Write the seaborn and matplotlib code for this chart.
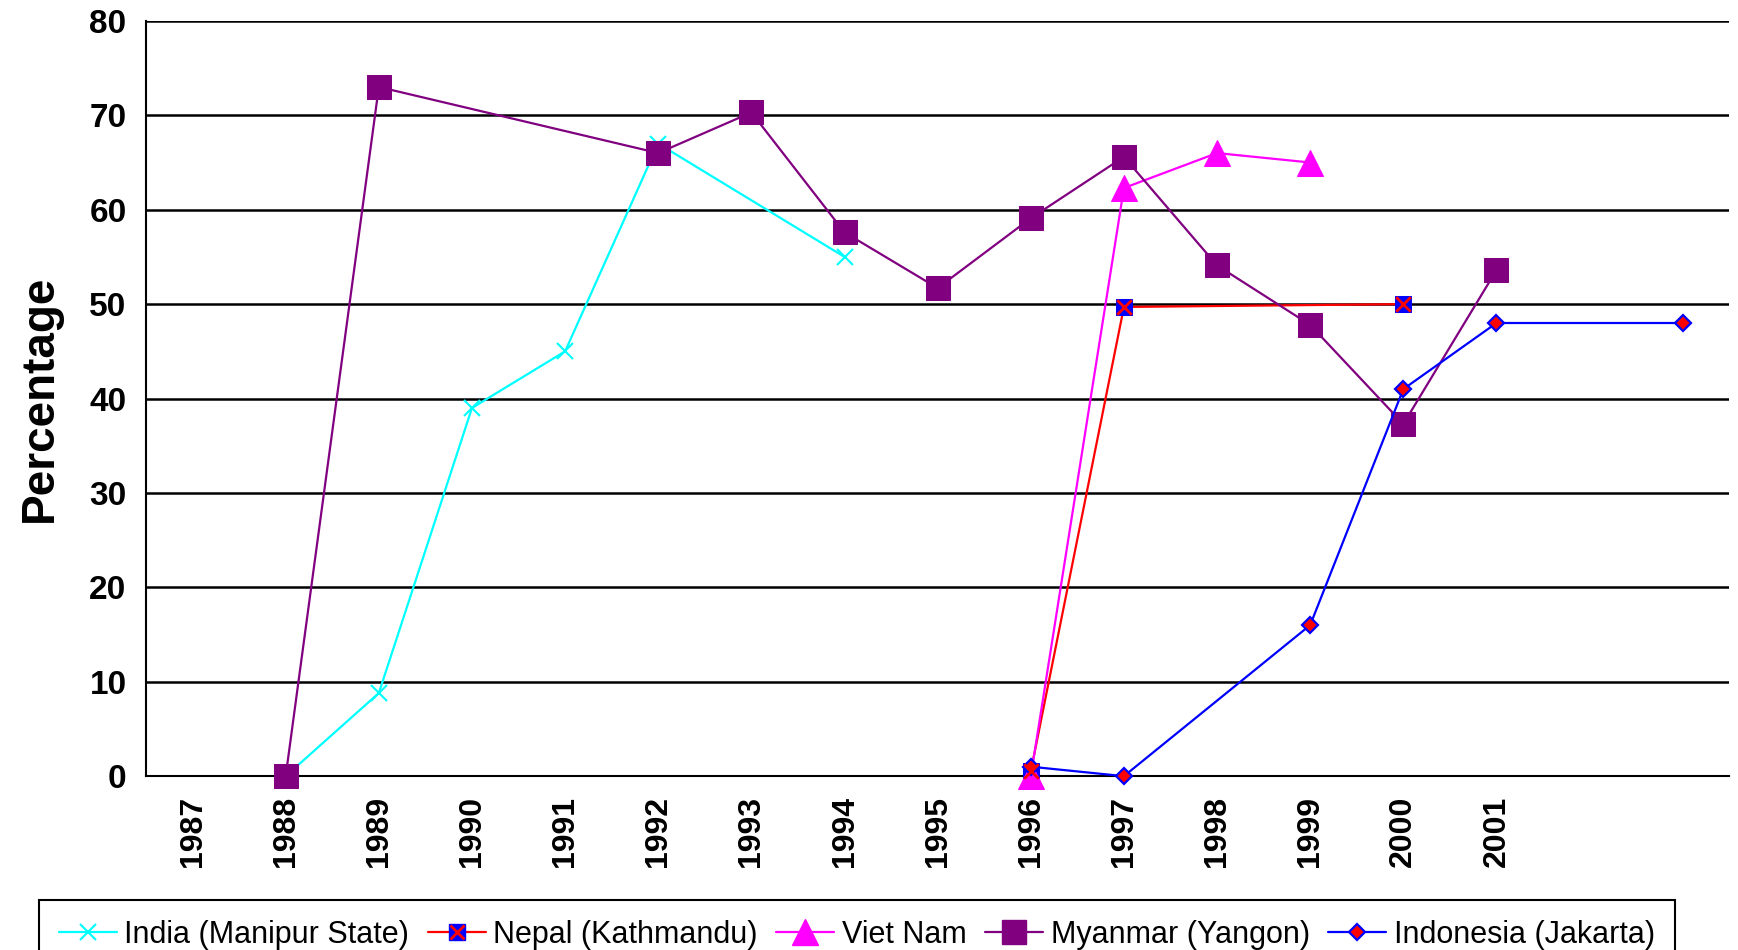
import pandas as pd
import matplotlib.pyplot as plt
import seaborn as sns
from matplotlib.lines import Line2D

# Datos (None = sin dato)
anios = ["1987", "1988", "1989", "1990", "1991", "1992", "1993", "1994", "1995",
         "1996", "1997", "1998", "1999", "2000", "2001", "", ""]
india = [None, 0, 8.8, 39, 45, 67, None, 55, None, None, None, None, None, None, None, None, None]
nepal = [None, None, None, None, None, None, None, None, None, 0.5, 49.7, None, None, 50, None, None, None]
vietnam = [None, None, None, None, None, None, None, None, None, 0, 62.3, 66, 65, None, None, None, None]
myanmar = [None, 0, 73, None, None, 66, 70.3, 57.6, 51.7, 59.1, 65.6, 54.1, 47.8, 37.3, 53.6, None, None]
indonesia = [None, None, None, None, None, None, None, None, None, 1, 0, None, 16, 41, 48, None, 48]

series = {
    "India (Manipur State)": india,
    "Nepal (Kathmandu)": nepal,
    "Viet Nam": vietnam,
    "Myanmar (Yangon)": myanmar,
    "Indonesia (Jakarta)": indonesia,
}

rows = []
for nombre, valores in series.items():
    for i, v in enumerate(valores):
        if v is not None:
            rows.append({"serie": nombre, "pos": i, "valor": v})
df = pd.DataFrame(rows)

estilos = {
    "India (Manipur State)": dict(color="#00FFFF", marker="x", markersize=12, markeredgewidth=1.5,
                                  markerfacecolor="#00FFFF", markeredgecolor="#00FFFF"),
    "Nepal (Kathmandu)": dict(color="#FF0000", marker="s", markersize=11,
                              markerfacecolor="#0000FF", markeredgecolor="#0000FF"),
    "Viet Nam": dict(color="#FF00FF", marker="^", markersize=19,
                     markerfacecolor="#FF00FF", markeredgecolor="#FF00FF"),
    "Myanmar (Yangon)": dict(color="#800080", marker="s", markersize=17,
                             markerfacecolor="#800080", markeredgecolor="#800080"),
    "Indonesia (Jakarta)": dict(color="#0000FF", marker="D", markersize=8, markeredgewidth=1.6,
                                markerfacecolor="#FF0000", markeredgecolor="#0000FF"),
}

sns.set_style("white")
plt.rcParams["font.family"] = ["Liberation Sans", "DejaVu Sans"]

fig = plt.figure(figsize=(17.38, 9.5), dpi=100)
ax = fig.add_axes([0.084, 0.183, 0.911, 0.795])

for nombre in series:
    sub = df[df["serie"] == nombre]
    sns.lineplot(data=sub, x="pos", y="valor", ax=ax, linewidth=1.6, legend=False,
                 zorder=3, clip_on=False, **estilos[nombre])
    if nombre == "Nepal (Kathmandu)":
        sns.scatterplot(data=sub, x="pos", y="valor", ax=ax, marker="x", color="#FF0000",
                        s=110, linewidth=2, legend=False, zorder=4, clip_on=False)

# Ejes
ax.set_xlim(-0.5, len(anios) - 0.5)
ax.set_ylim(0, 80)
ax.set_yticks(range(0, 81, 10))
ax.set_yticklabels([str(v) for v in range(0, 81, 10)], fontsize=24, fontweight="bold")
ax.set_xticks(range(15))
ax.set_xticklabels(anios[:15], rotation=90, fontsize=23, fontweight="bold")
ax.set_xticks([i - 0.5 for i in range(len(anios) + 1)], minor=True)
ax.tick_params(axis="x", which="major", length=0, pad=14, labelcolor="black")
ax.tick_params(axis="x", which="minor", length=10, width=1.5, color="black", direction="out")
ax.tick_params(axis="y", length=8, width=1.5, color="black", direction="out", pad=6,
               labelcolor="black")
ax.grid(axis="y", color="black", linewidth=1.8)
ax.set_axisbelow(True)
for lado in ["top", "right"]:
    ax.spines[lado].set_visible(False)
for lado in ["left", "bottom"]:
    ax.spines[lado].set_color("black")
    ax.spines[lado].set_linewidth(1.5)
ax.set_xlabel("")
ax.set_ylabel("Percentage", fontsize=33, fontweight="bold", labelpad=20, color="black")

# Leyenda
handles = []
for nombre in series:
    h = Line2D([], [], linewidth=1.6, **estilos[nombre])
    if nombre == "Nepal (Kathmandu)":
        hx = Line2D([], [], linestyle="none", marker="x", color="#FF0000",
                    markersize=10, markeredgewidth=2)
        h = (h, hx)
    handles.append(h)
leg = fig.legend(handles, list(series.keys()), loc="upper left", bbox_to_anchor=(0.0224, 0.053),
                 ncol=5, fontsize=22, frameon=True, fancybox=False, framealpha=1,
                 edgecolor="black", handlelength=1.9, handletextpad=0.25, columnspacing=0.6,
                 borderpad=0.65, borderaxespad=0)
leg.get_frame().set_linewidth(1.5)
for t in leg.get_texts():
    t.set_color("black")

fig.savefig("out.png", dpi=100)
plt.close(fig)
